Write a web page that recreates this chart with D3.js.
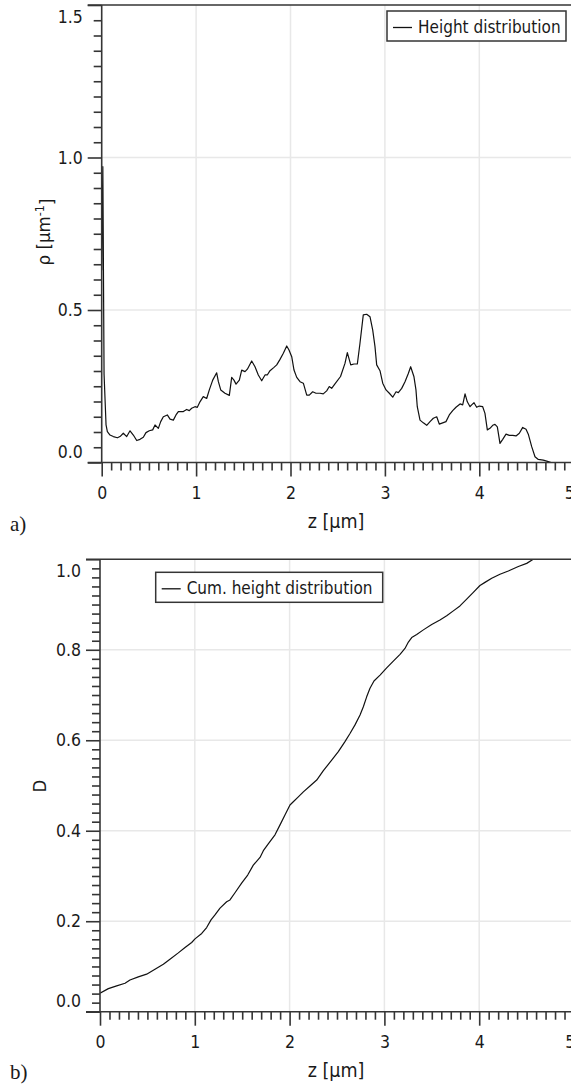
<!DOCTYPE html>
<html><head><meta charset="utf-8">
<script src="https://cdn.jsdelivr.net/npm/d3@7"></script>
<style>
html,body{margin:0;padding:0;background:#fff;}
svg{display:block;}
text{font-family:"DejaVu Sans Condensed","DejaVu Sans",sans-serif;fill:#1a1a1a;}
</style></head>
<body>
<script>
// ---- data ----
const heightZ = [0.000,0.012,0.025,0.046,0.060,0.088,0.123,0.166,0.194,0.229,0.265,0.300,0.335,0.371,0.406,0.441,0.469,0.504,0.540,0.565,0.600,0.625,0.653,0.695,0.724,0.759,0.787,0.812,0.865,0.900,0.928,0.953,0.988,1.013,1.041,1.076,1.112,1.140,1.176,1.218,1.236,1.261,1.306,1.352,1.377,1.401,1.423,1.458,1.483,1.518,1.543,1.589,1.624,1.659,1.695,1.730,1.754,1.783,1.825,1.854,1.889,1.924,1.960,1.984,2.013,2.037,2.066,2.101,2.136,2.172,2.199,2.235,2.270,2.313,2.347,2.383,2.411,2.436,2.471,2.530,2.577,2.602,2.638,2.673,2.708,2.736,2.771,2.807,2.842,2.871,2.895,2.913,2.948,2.977,3.012,3.047,3.083,3.118,3.142,3.178,3.213,3.248,3.273,3.308,3.329,3.343,3.372,3.407,3.443,3.478,3.513,3.549,3.576,3.612,3.647,3.682,3.718,3.753,3.796,3.824,3.849,3.873,3.902,3.919,3.944,3.972,4.000,4.036,4.060,4.085,4.113,4.142,4.166,4.191,4.219,4.248,4.283,4.318,4.354,4.389,4.424,4.460,4.495,4.519,4.555,4.590,4.625,4.678,4.731,4.760];
const heightRho = [0.630,0.970,0.290,0.123,0.101,0.090,0.085,0.081,0.085,0.096,0.085,0.104,0.090,0.072,0.076,0.083,0.098,0.104,0.107,0.123,0.112,0.134,0.150,0.156,0.142,0.139,0.156,0.167,0.167,0.174,0.170,0.178,0.183,0.181,0.199,0.216,0.210,0.238,0.270,0.294,0.265,0.238,0.227,0.220,0.279,0.270,0.257,0.270,0.303,0.298,0.306,0.333,0.314,0.287,0.268,0.287,0.287,0.301,0.312,0.320,0.338,0.358,0.382,0.369,0.347,0.303,0.279,0.265,0.260,0.221,0.221,0.232,0.227,0.227,0.225,0.235,0.249,0.243,0.258,0.282,0.325,0.360,0.320,0.323,0.323,0.391,0.484,0.486,0.478,0.434,0.380,0.320,0.301,0.260,0.238,0.227,0.214,0.232,0.229,0.243,0.265,0.292,0.314,0.281,0.238,0.183,0.139,0.130,0.122,0.134,0.145,0.150,0.126,0.130,0.134,0.156,0.170,0.181,0.192,0.189,0.225,0.199,0.183,0.189,0.196,0.181,0.185,0.183,0.161,0.107,0.112,0.122,0.125,0.117,0.063,0.076,0.093,0.089,0.089,0.087,0.096,0.115,0.109,0.093,0.052,0.019,0.010,0.008,0.003,0.000];

const cumZ = [0.000,0.088,0.176,0.264,0.316,0.404,0.492,0.580,0.668,0.738,0.826,0.897,0.967,1.002,1.073,1.125,1.171,1.213,1.266,1.336,1.371,1.424,1.494,1.558,1.617,1.688,1.723,1.775,1.846,1.899,1.951,2.004,2.039,2.092,2.145,2.215,2.286,2.356,2.444,2.514,2.584,2.637,2.690,2.743,2.778,2.813,2.848,2.890,2.954,3.024,3.094,3.165,3.217,3.253,3.288,3.341,3.411,3.499,3.586,3.657,3.727,3.797,3.868,3.938,4.008,4.061,4.132,4.219,4.307,4.413,4.501,4.570];
const cumD = [0.041,0.051,0.057,0.063,0.070,0.077,0.083,0.094,0.105,0.116,0.130,0.142,0.153,0.161,0.173,0.186,0.203,0.214,0.229,0.243,0.247,0.263,0.284,0.302,0.324,0.341,0.356,0.371,0.391,0.413,0.435,0.457,0.464,0.475,0.486,0.499,0.512,0.533,0.556,0.575,0.597,0.615,0.634,0.656,0.674,0.696,0.715,0.731,0.744,0.760,0.775,0.790,0.803,0.817,0.827,0.834,0.844,0.856,0.866,0.875,0.886,0.897,0.912,0.927,0.942,0.949,0.958,0.967,0.974,0.984,0.991,1.000];

const xTicks = [0,1,2,3,4,5];
const yTicksTop = [0.0,0.5,1.0,1.5];
const yTicksBottom = [0.0,0.2,0.4,0.6,0.8,1.0];

const W = 571, H = 1084;
const svg = d3.select("body").append("svg").attr("width", W).attr("height", H);
svg.append("rect").attr("width", W).attr("height", H).attr("fill", "#fff");

const AX = "#353535";
const FS = 17.5;

function panel(cfg) {
  const g = svg.append("g");
  const x = d3.scaleLinear().domain([0, 5]).range([cfg.x0, cfg.x5]);
  const y = d3.scaleLinear().domain([0, cfg.ymax]).range([cfg.yb, cfg.yt]);
  const clipId = "clip" + cfg.id;
  svg.append("clipPath").attr("id", clipId).append("rect")
    .attr("x", cfg.x0).attr("y", cfg.yt).attr("width", W - cfg.x0).attr("height", cfg.yb - cfg.yt);

  // grid
  const grid = g.append("g").attr("clip-path", `url(#${clipId})`);
  grid.selectAll("line.gx").data(xTicks.filter(d => d > 0)).join("line")
    .attr("x1", d => x(d)).attr("x2", d => x(d)).attr("y1", cfg.yt).attr("y2", cfg.yb)
    .attr("stroke", "#e8e8e8").attr("stroke-width", 1.5);
  grid.selectAll("line.gy").data(cfg.yTicks.filter(d => d > 0 && d < cfg.ymax)).join("line")
    .attr("x1", cfg.x0).attr("x2", W).attr("y1", d => y(d)).attr("y2", d => y(d))
    .attr("stroke", "#e8e8e8").attr("stroke-width", 1.5);

  // curve
  const pts = cfg.xs.map((v, i) => [v, cfg.ys[i]]);
  g.append("path").datum(pts)
    .attr("clip-path", `url(#${clipId})`)
    .attr("fill", "none").attr("stroke", "#111").attr("stroke-width", 1.2)
    .attr("stroke-linejoin", "round")
    .attr("d", d3.line().x(d => x(d[0])).y(d => y(d[1])));

  // minor ticks
  const xMinor = d3.range(0, 50).map(i => i / 10).filter(v => Math.abs(v - Math.round(v)) > 1e-6);
  const yMinor = d3.range(0, Math.round(cfg.ymax / cfg.minorStep) + 1).map(i => +(i * cfg.minorStep).toFixed(4))
    .filter(v => !cfg.yTicks.some(t => Math.abs(t - v) < 1e-6));

  const xa = g.append("g").attr("transform", `translate(0,${cfg.yb})`)
    .call(d3.axisBottom(x).tickValues(xTicks).tickSize(14).tickPadding(10).tickFormat(d3.format("d")));
  const xm = g.append("g").attr("transform", `translate(0,${cfg.yb})`)
    .call(d3.axisBottom(x).tickValues(xMinor).tickSize(8).tickFormat(""));
  const ya = g.append("g").attr("transform", `translate(${cfg.x0},0)`)
    .call(d3.axisLeft(y).tickValues(cfg.yTicks).tickSize(14).tickPadding(5).tickFormat(d3.format(".1f")));
  const ym = g.append("g").attr("transform", `translate(${cfg.x0},0)`)
    .call(d3.axisLeft(y).tickValues(yMinor).tickSize(8).tickFormat(""));
  [xa, xm, ya, ym].forEach(a => {
    a.select(".domain").remove();
    a.selectAll("line").attr("stroke", AX).attr("stroke-width", 1.6);
    a.selectAll("text").attr("font-size", FS).attr("fill", "#1a1a1a")
      .attr("font-family", '"DejaVu Sans Condensed","DejaVu Sans",sans-serif');
  });
  // shift end labels inward like the original
  ya.selectAll(".tick text").attr("dy", d => d === 0 ? "-0.3em" : (d === cfg.ymax ? "1.0em" : "0.32em"));
  xa.selectAll(".tick text").attr("dx", d => d === 5 ? "-0.25em" : 0);

  // axis lines and top frame
  g.append("line").attr("x1", cfg.x0 - 14).attr("x2", W).attr("y1", cfg.yb).attr("y2", cfg.yb)
    .attr("stroke", AX).attr("stroke-width", 1.6);
  g.append("line").attr("x1", cfg.x0 - 14).attr("x2", W).attr("y1", cfg.yt).attr("y2", cfg.yt)
    .attr("stroke", AX).attr("stroke-width", 1.6);
  g.append("line").attr("x1", cfg.x0).attr("x2", cfg.x0).attr("y1", cfg.yt).attr("y2", cfg.yb)
    .attr("stroke", AX).attr("stroke-width", 1.6);

  // axis titles
  g.append("text").attr("x", 336).attr("y", cfg.yb + 65).attr("text-anchor", "middle")
    .attr("font-size", 19.5).text("z [µm]");
  const yl = g.append("text").attr("transform", `translate(${cfg.ylabX},${cfg.ylabY}) rotate(-90)`)
    .attr("text-anchor", "middle").attr("font-size", 18.5);
  cfg.ylab(yl);

  // legend
  const lg = g.append("g");
  lg.append("rect").attr("x", cfg.lx).attr("y", cfg.ly).attr("width", cfg.lw).attr("height", 30)
    .attr("fill", "#fff").attr("stroke", AX).attr("stroke-width", 1.5);
  lg.append("line").attr("x1", cfg.lx + 6).attr("x2", cfg.lx + 25).attr("y1", cfg.ly + 16.5).attr("y2", cfg.ly + 16.5)
    .attr("stroke", "#111").attr("stroke-width", 1.3);
  lg.append("text").attr("x", cfg.lx + 31).attr("y", cfg.ly + 22).attr("font-size", 17).text(cfg.legend);

  // panel letter
  svg.append("text").attr("x", 10).attr("y", cfg.letterY)
    .attr("font-size", 21)
    .style("font-family", '"Liberation Serif","Times New Roman",serif')
    .text(cfg.letter);
}

panel({
  id: "a", x0: 101.7, x5: 573.7, yb: 462.5, yt: 5, ymax: 1.5, yTicks: yTicksTop, minorStep: 0.05,
  xs: heightZ, ys: heightRho,
  ylabX: 50, ylabY: 232,
  ylab: t => { t.append("tspan").text("ρ [µm"); t.append("tspan").attr("dy", "-0.45em").attr("font-size", 12.5).text("-1");
               t.append("tspan").attr("dy", "0.45em").text("]"); },
  lx: 387, ly: 11, lw: 179, legend: "Height distribution",
  letter: "a)", letterY: 531
});
panel({
  id: "b", x0: 100, x5: 574, yb: 1011.7, yt: 559.3, ymax: 1.0, yTicks: yTicksBottom, minorStep: 0.02,
  xs: cumZ, ys: cumD,
  ylabX: 46, ylabY: 786,
  ylab: t => t.text("D"),
  lx: 155.7, ly: 572.3, lw: 227, legend: "Cum. height distribution",
  letter: "b)", letterY: 1079
});
</script>
</body></html>
